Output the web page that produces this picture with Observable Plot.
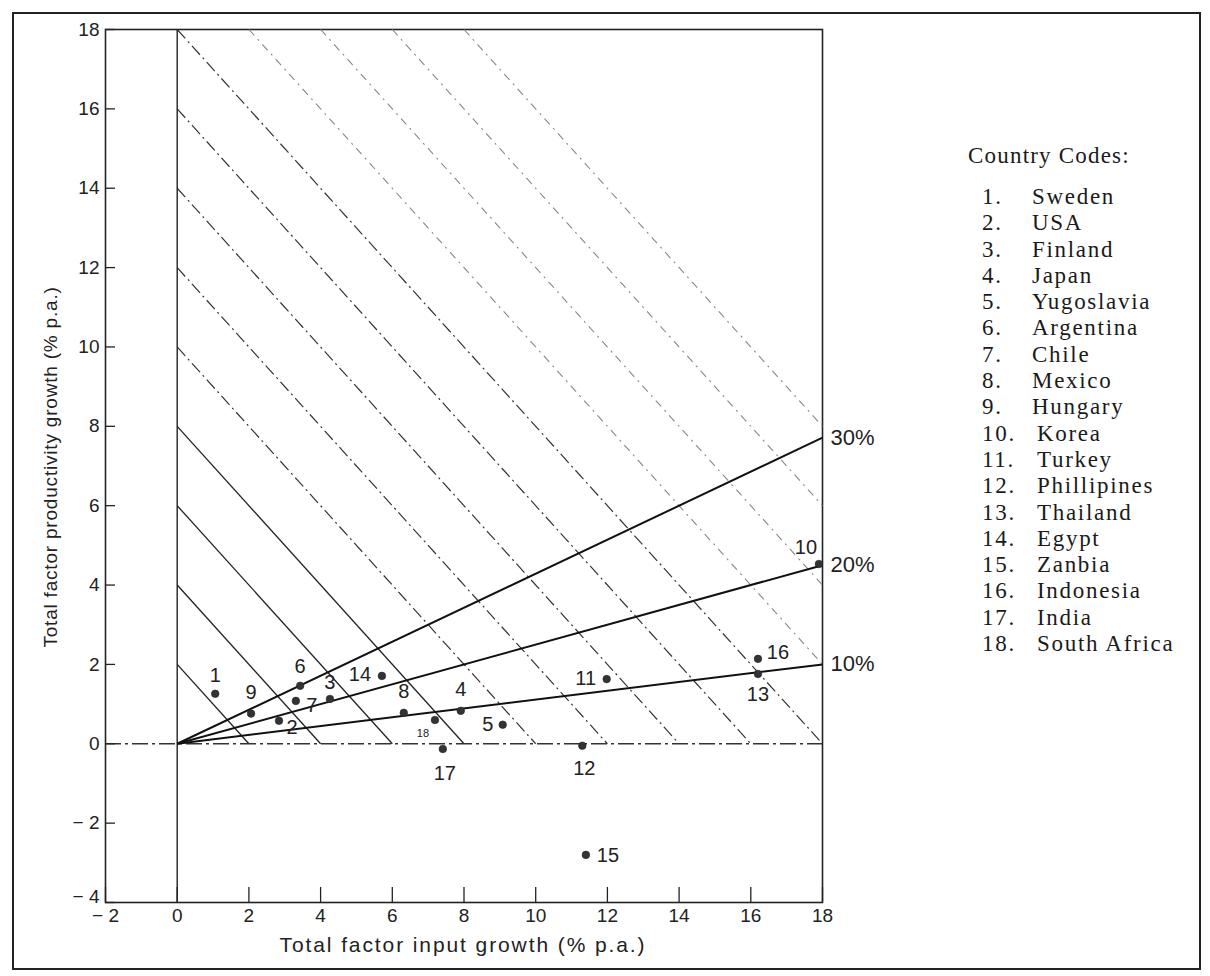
<!DOCTYPE html>
<html>
<head>
<meta charset="utf-8">
<script src="https://cdn.jsdelivr.net/npm/d3@7"></script>
<script src="https://cdn.jsdelivr.net/npm/@observablehq/plot@0.6"></script>
<style>
  html, body { margin: 0; padding: 0; background: #fff; }
  #page { position: relative; width: 1210px; height: 976px; overflow: hidden; background: #fff; }
  #border { position: absolute; left: 12px; top: 12px; width: 1185px; height: 954px; border: 2px solid #222; }
  #chart { position: absolute; left: 0; top: 0; }
  .axlabel { position: absolute; font-family: "Liberation Sans", Arial, sans-serif; color: #222; white-space: nowrap; }
  #xlabel { left: 463px; top: 945px; transform: translate(-50%, -50%); font-size: 21px; letter-spacing: 1.9px; }
  #ylabel { left: 51px; top: 467px; transform: translate(-50%, -50%) rotate(-90deg); font-size: 19px; letter-spacing: 0.8px; }
  #legend { position: absolute; left: 968px; top: 143px; font-family: "Liberation Serif", serif; font-size: 23px; letter-spacing: 1.7px; color: #1a1a1a; }
  #legend .title { margin-bottom: 15px; letter-spacing: 1.2px; }
  #legend .row { height: 26.3px; line-height: 26.3px; white-space: nowrap; }
  #legend .num { display: inline-block; width: 64px; padding-left: 14px; box-sizing: border-box; }
  #legend .row.two .num { width: 69px; }
</style>
</head>
<body>
<div id="page">
  <div id="border"></div>
  <div id="chart"></div>
  <div id="xlabel" class="axlabel"></div>
  <div id="ylabel" class="axlabel"></div>
  <div id="legend"></div>
</div>
<script>
// ---- data ----
const codes = [1, 2, 3, 4, 5, 6, 7, 8, 9, 10, 11, 12, 13, 14, 15, 16, 17, 18];
const countries = ["Sweden", "USA", "Finland", "Japan", "Yugoslavia", "Argentina", "Chile", "Mexico", "Hungary",
  "Korea", "Turkey", "Phillipines", "Thailand", "Egypt", "Zanbia", "Indonesia", "India", "South Africa"];
const inputGrowth = [1.06, 2.84, 4.26, 7.91, 9.08, 3.43, 3.31, 6.32, 2.06, 17.9, 11.98, 11.3, 16.2, 5.71, 11.4, 16.2, 7.41, 7.19];
const tfpGrowth   = [1.26, 0.58, 1.13, 0.83, 0.48, 1.46, 1.08, 0.78, 0.76, 4.53, 1.63, -0.05, 1.76, 1.71, -2.8, 2.14, -0.13, 0.6];
const raySharesPct = [10, 20, 30];
const isoOutputGrowth = [2, 4, 6, 8, 10, 12, 14, 16, 18, 20, 22, 24, 26];
const xTicks = [-2, 0, 2, 4, 6, 8, 10, 12, 14, 16, 18];
const yTicks = [-4, -2, 0, 2, 4, 6, 8, 10, 12, 14, 16, 18];
const xLabel = "Total factor input growth (% p.a.)";
const yLabel = "Total factor productivity growth (% p.a.)";
const legendTitle = "Country Codes:";

// ---- label placement (style) ----
const labelPlace = {
  1: [0, -18], 2: [13, 7], 3: [0, -16], 4: [0, -21], 5: [-15, 0], 6: [0, -19],
  7: [16, 5], 8: [0, -21], 9: [0, -21], 10: [-13, -16], 11: [-21, 0], 12: [2, 23],
  13: [0, 21], 14: [-22, -1], 15: [22, 1], 16: [20, -6], 17: [2, 25], 18: [-12, 14]
};

const points = codes.map((c, i) => ({code: c, name: countries[i], x: inputGrowth[i], y: tfpGrowth[i]}));

const xMin = -2, xMax = 18, yMin = -4, yMax = 18;

// iso-output lines x + y = c, clipped to the frame's positive quadrant
const isoSegs = isoOutputGrowth.map(c => ({
  c,
  x1: Math.max(0, c - yMax), y1: Math.min(c, yMax),
  x2: Math.min(c, xMax), y2: Math.max(0, c - xMax)
}));
// rays: share s of output growth due to TFP => y = s/(1-s) * x
const rays = raySharesPct.map(p => {
  const s = p / 100;
  return {p, x1: 0, y1: 0, x2: xMax, y2: xMax * s / (1 - s)};
});

const fmt = d => d < 0 ? "\u2212 " + Math.abs(d) : String(d);

const marks = [
  Plot.frame({stroke: "#222", strokeWidth: 1.6}),
  // iso-output lines
  Plot.link(isoSegs.filter(d => d.c <= 8), {x1: "x1", y1: "y1", x2: "x2", y2: "y2", stroke: "#222", strokeWidth: 1.3}),
  Plot.link(isoSegs.filter(d => d.c > 8 && d.c <= 18), {x1: "x1", y1: "y1", x2: "x2", y2: "y2", stroke: "#333", strokeWidth: 1.2, strokeDasharray: "12,4,2,4"}),
  Plot.link(isoSegs.filter(d => d.c > 18), {x1: "x1", y1: "y1", x2: "x2", y2: "y2", stroke: "#888", strokeWidth: 1.1, strokeDasharray: "8,5,2,5"}),
  // zero lines
  Plot.ruleY([0], {x1: xMin, x2: xMax, stroke: "#333", strokeWidth: 1.3, strokeDasharray: "16,4,3,4"}),
  Plot.ruleX([0], {y1: yMin, y2: yMax, stroke: "#222", strokeWidth: 1.4}),
  // rays
  Plot.link(rays, {x1: "x1", y1: "y1", x2: "x2", y2: "y2", stroke: "#111", strokeWidth: 2}),
  Plot.text(rays, {x: "x2", y: "y2", text: d => d.p + "%", textAnchor: "start", dx: 8, fontSize: 22, fill: "#222"}),
  // inward ticks
  Plot.ruleY(yTicks, {x1: xMin, x2: xMin + 0.28, stroke: "#222", strokeWidth: 1.3}),
  Plot.ruleX(xTicks, {y1: yMin, y2: yMin + 0.38, stroke: "#222", strokeWidth: 1.3}),
  Plot.axisY(yTicks.filter(d => d !== yMin), {tickSize: 0, tickPadding: 6, tickFormat: fmt, fontSize: 19, label: null}),
  // bottom-most y tick label nudged up, as in the reference, so it clears the x label below
  Plot.text([yMin], {x: xMin, y: d => d, text: fmt, textAnchor: "end", dx: -6, dy: -6, fontSize: 19, fill: "#222"}),
  Plot.axisX(xTicks, {tickSize: 0, tickPadding: 6, tickFormat: fmt, fontSize: 19, label: null}),
  // points
  Plot.dot(points, {x: "x", y: "y", r: 3.8, fill: "#333", stroke: "#222", strokeWidth: 0.6}),
  ...points.map(p => Plot.text([p], {
    x: "x", y: "y", text: d => String(d.code),
    dx: labelPlace[p.code][0], dy: labelPlace[p.code][1],
    fontSize: p.code === 18 ? 11 : 20, fill: "#222"
  }))
];

const chart = Plot.plot({
  width: 900,
  height: 960,
  marginLeft: 105,
  marginRight: 78,
  marginTop: 29,
  marginBottom: 58,
  x: {domain: [xMin, xMax]},
  y: {domain: [yMin, yMax]},
  style: {fontFamily: "'Liberation Sans', Arial, sans-serif", fontSize: "19px", color: "#222", background: "transparent"},
  marks
});
document.getElementById("chart").appendChild(chart);

document.getElementById("xlabel").textContent = xLabel;
document.getElementById("ylabel").textContent = yLabel;

// legend
const legend = document.getElementById("legend");
const t = document.createElement("div");
t.className = "title";
t.textContent = legendTitle;
legend.appendChild(t);
codes.forEach((c, i) => {
  const row = document.createElement("div");
  row.className = "row" + (c >= 10 ? " two" : "");
  const n = document.createElement("span");
  n.className = "num";
  n.textContent = c + ".";
  const nm = document.createElement("span");
  nm.textContent = countries[i];
  row.appendChild(n);
  row.appendChild(nm);
  legend.appendChild(row);
});
</script>
</body>
</html>
